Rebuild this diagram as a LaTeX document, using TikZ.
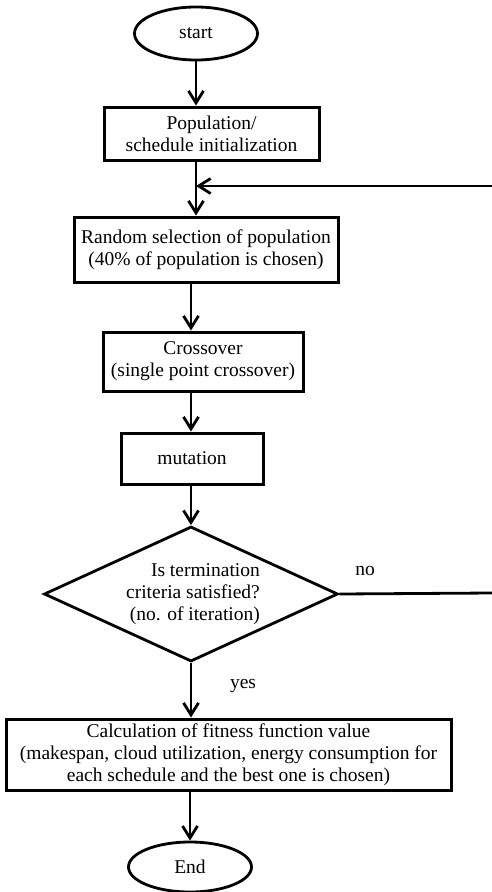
\documentclass[tikz,border=0pt]{standalone}
\usepackage{fontspec}
\setmainfont{Liberation Serif}
\usetikzlibrary{shapes.geometric,arrows.meta}
\tikzset{
	procbox/.style={draw=black,line width=3pt,rectangle,align=center,inner sep=0pt},
	termnode/.style={draw=black,line width=2.8pt,ellipse,inner sep=0pt,minimum width=123pt},
	decide/.style={draw=black,line width=2.8pt,diamond,inner sep=0pt,minimum width=294pt,minimum height=135pt},
}
\begin{document}
\begin{tikzpicture}[x=1pt,y=-1pt,line width=2.8pt,>={Straight Barb[length=12pt,width=15pt]},font=\fontsize{19.5}{22}\selectfont]
	\useasboundingbox (0,0) rectangle (492,892);
	% nodes
	\node[termnode,minimum height=53pt] (start) at (196,33.5) {start};
	\node[procbox,minimum width=215pt,minimum height=53pt] (pop) at (211.5,133.5) {Population/\\schedule initialization};
	\node[procbox,minimum width=264pt,minimum height=65pt] (sel) at (206,249.5) {Random selection of population\\(40\% of population is chosen)};
	\node[procbox,minimum width=200pt,minimum height=59pt] (cross) at (203,361.5) {Crossover\\(single point crossover)};
	\node[procbox,minimum width=142pt,minimum height=51pt] (mut) at (192,458.5) {mutation};
	\node[decide] (chk) at (191,594) {};
	\node[align=right] (chktxt) at (193,594) {Is termination\\criteria satisfied?\\(no. of iteration)};
	\node[procbox,minimum width=445pt,minimum height=71pt] (fit) at (228.5,754.5) {Calculation of fitness function value\\(makespan, cloud utilization, energy consumption for\\each schedule and the best one is chosen)};
	\node[termnode,minimum height=50pt] (stop) at (190,867) {End};
	\node (nolab) at (365,571) {no};
	\node (yeslab) at (243,686) {yes};
	\coordinate (noend) at (492,593);
	\coordinate (back) at (492,186);
	% connectors
	\path[draw=black,->] (start.south) -- (start.south |- pop.north);
	\path[draw=black,->] (pop.south -| start) -- (sel.north -| start);
	\path[draw=black,->] (sel.south -| chk) -- (cross.north -| chk);
	\path[draw=black,->] (cross.south -| chk) -- (mut.north -| chk);
	\path[draw=black,->] (mut.south -| chk) -- (chk.north);
	\path[draw=black,->] (chk.south) -- (fit.north -| chk);
	\path[draw=black,->] (fit.south -| stop) -- (stop.north);
	\path[draw=black] (chk.east) -- (noend);
	\path[draw=black,->] (back) -- (back -| start);
\end{tikzpicture}
\end{document}
